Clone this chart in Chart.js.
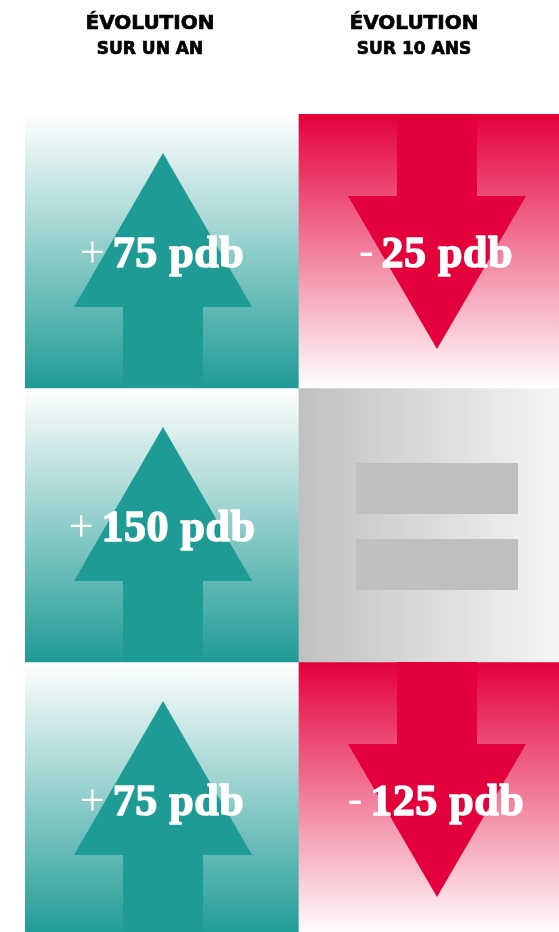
<!DOCTYPE html>
<html lang="fr">
<head>
<meta charset="utf-8">
<title>Évolution</title>
<script src="https://cdn.jsdelivr.net/npm/chart.js"></script>
<style>
  html, body { margin: 0; padding: 0; width: 559px; height: 932px; overflow: hidden; background: #fff; }
  #zone { position: absolute; left: 0; top: 0; width: 600px; height: 940px; }
</style>
</head>
<body>
<div id="zone"><canvas id="grille" width="600" height="940"></canvas></div>
<script>
// Colonnes et valeurs (points de base)
const colonnes = ['SUR UN AN', 'SUR 10 ANS'];
const titreColonne = 'ÉVOLUTION';
const rangees = ['Ligne 1', 'Ligne 2', 'Ligne 3'];
const evolutionUnAn = [75, 150, 75];
const evolutionDixAns = [-25, 0, -125];
const unite = 'pdb';

const VERT = '#1f9b95';
const ROUGE = '#e4003a';
const GRIS = '#bfbfbf';

function valeur(ligne, col) {
  return col === 0 ? evolutionUnAn[ligne] : evolutionDixAns[ligne];
}

// Limites d'une case en pixels, a partir des echelles
function caseEnPixels(chart, ligne, col) {
  const x = chart.scales.x, y = chart.scales.y;
  return {
    gauche: x.getPixelForValue(col - 0.5),
    droite: x.getPixelForValue(col + 0.5),
    haut: y.getPixelForValue(ligne),
    bas: y.getPixelForValue(ligne + 1)
  };
}

function fondCase(ctx) {
  const chart = ctx.chart;
  if (!chart.chartArea) return '#ffffff';
  const ligne = ctx.datasetIndex, col = ctx.dataIndex;
  const v = valeur(ligne, col);
  const c = caseEnPixels(chart, ligne, col);
  const g = chart.ctx;
  let grad;
  if (v > 0) {
    grad = g.createLinearGradient(0, c.haut, 0, c.bas);
    grad.addColorStop(0, '#ffffff');
    grad.addColorStop(1, VERT);
  } else if (v < 0) {
    grad = g.createLinearGradient(0, c.haut, 0, c.bas);
    grad.addColorStop(0, ROUGE);
    grad.addColorStop(1, '#ffffff');
  } else {
    grad = g.createLinearGradient(c.gauche, 0, c.droite, 0);
    grad.addColorStop(0, '#c0c0c0');
    grad.addColorStop(1, '#f8f8f8');
  }
  return grad;
}

// Fleches, signe egal, libelles et en-tetes
const pluginFleches = {
  id: 'fleches',
  afterDatasetsDraw(chart) {
    const g = chart.ctx;
    rangees.forEach((r, ligne) => {
      const meta = chart.getDatasetMeta(ligne);
      meta.data.forEach((el, col) => {
        const v = valeur(ligne, col);
        const gauche = el.x - el.width / 2;
        const haut = Math.min(el.y, el.base);
        const t = Math.abs(el.base - el.y);
        const cx = el.x + 1;
        const px = f => gauche + f * t;
        const py = f => haut + f * t;
        g.save();
        if (v > 0) {
          g.fillStyle = VERT;
          g.beginPath();
          g.moveTo(cx, py(39 / 274));
          g.lineTo(cx + 89 / 274 * t, py(193 / 274));
          g.lineTo(cx + 40 / 274 * t, py(193 / 274));
          g.lineTo(cx + 40 / 274 * t, py(1));
          g.lineTo(cx - 40 / 274 * t, py(1));
          g.lineTo(cx - 40 / 274 * t, py(193 / 274));
          g.lineTo(cx - 89 / 274 * t, py(193 / 274));
          g.closePath();
          g.fill();
        } else if (v < 0) {
          g.fillStyle = ROUGE;
          g.beginPath();
          g.moveTo(cx, py(235 / 274));
          g.lineTo(cx + 89 / 274 * t, py(82 / 274));
          g.lineTo(cx + 40 / 274 * t, py(82 / 274));
          g.lineTo(cx + 40 / 274 * t, py(0));
          g.lineTo(cx - 40 / 274 * t, py(0));
          g.lineTo(cx - 40 / 274 * t, py(82 / 274));
          g.lineTo(cx - 89 / 274 * t, py(82 / 274));
          g.closePath();
          g.fill();
        } else {
          g.fillStyle = GRIS;
          g.fillRect(px(57 / 274), py(75 / 274), 162 / 274 * t, 51 / 274 * t);
          g.fillRect(px(57 / 274), py(151 / 274), 162 / 274 * t, 51 / 274 * t);
        }
        if (v !== 0) {
          const signe = v > 0 ? '+' : '-';
          const texte = Math.abs(v) + ' ' + unite;
          const taille = Math.round(t * 0.162);
          g.fillStyle = '#ffffff';
          g.strokeStyle = '#ffffff';
          g.lineJoin = 'round';
          g.textBaseline = 'alphabetic';
          g.textAlign = 'left';
          g.font = '400 ' + taille + 'px "Liberation Serif"';
          const ls = g.measureText(signe).width;
          g.font = '700 ' + taille + 'px "Liberation Serif"';
          g.letterSpacing = '0.5px';
          const lt = g.measureText(texte).width;
          const ecart = 8;
          const debut = el.x - (ls + ecart + lt) / 2;
          const base = py(153 / 274);
          g.lineWidth = 1.4;
          g.fillText(texte, debut + ls + ecart, base);
          g.strokeText(texte, debut + ls + ecart, base);
          g.letterSpacing = '0px';
          g.font = '400 ' + taille + 'px "Liberation Serif"';
          g.fillText(signe, debut, base - (v < 0 ? 2 : 0));
        }
        g.restore();
      });
    });

    // En-tetes des colonnes
    const decalage = [-12, -22];
    g.save();
    g.fillStyle = '#000000';
    g.strokeStyle = '#000000';
    g.lineWidth = 0.7;
    g.textAlign = 'center';
    g.textBaseline = 'alphabetic';
    colonnes.forEach((nom, col) => {
      const x = chart.scales.x.getPixelForValue(col) + decalage[col];
      g.font = 'bold 20px "DejaVu Sans"';
      g.fillText(titreColonne, x, 29);
      g.strokeText(titreColonne, x, 29);
      g.font = 'bold 17px "DejaVu Sans"';
      g.fillText(nom, x, 54);
      g.strokeText(nom, x, 54);
    });
    g.restore();
  }
};

new Chart(document.getElementById('grille'), {
  type: 'bar',
  data: {
    labels: colonnes,
    datasets: rangees.map((r, ligne) => ({
      label: r,
      data: colonnes.map(() => [ligne, ligne + 1]),
      backgroundColor: fondCase,
      borderWidth: 0,
      barPercentage: 1,
      categoryPercentage: 1,
      grouped: false
    }))
  },
  options: {
    responsive: false,
    devicePixelRatio: 1,
    animation: false,
    layout: { padding: { left: 25, right: 27, top: 114, bottom: 4 } },
    scales: {
      x: { display: false, offset: true },
      y: { display: false, min: 0, max: 3, reverse: true }
    },
    plugins: {
      legend: { display: false },
      tooltip: { enabled: false }
    }
  },
  plugins: [pluginFleches]
});
</script>
</body>
</html>
